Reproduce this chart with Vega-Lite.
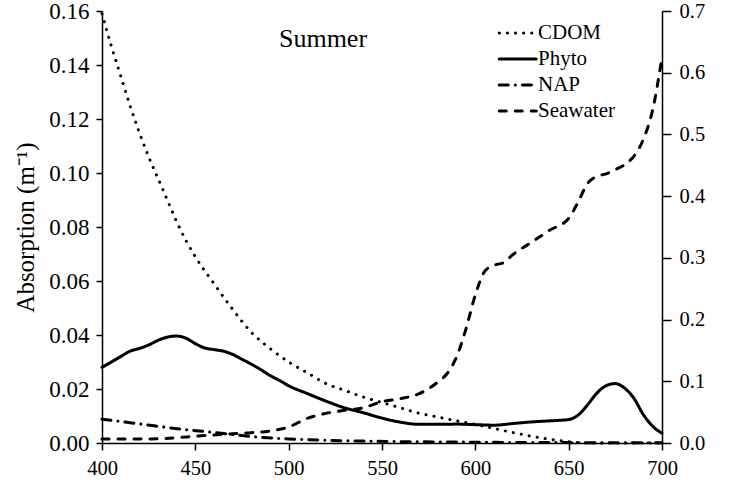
{
  "$schema": "https://vega.github.io/schema/vega-lite/v6.json",
  "width": 560,
  "height": 432,
  "autosize": {"type": "none"},
  "padding": {"left": 102, "top": 11, "right": 76, "bottom": 44},
  "background": "white",
  "config": {
    "view": {"stroke": null},
    "font": "Liberation Serif",
    "axis": {
      "grid": false,
      "labelFlush": false,
      "domainColor": "black",
      "domainWidth": 1.5,
      "tickColor": "black",
      "tickWidth": 1.5,
      "tickSize": 7,
      "labelColor": "black",
      "labelFont": "Liberation Serif",
      "labelFontSize": 20,
      "titleFont": "Liberation Serif",
      "titleColor": "black",
      "titleFontWeight": "normal"
    }
  },
  "datasets": {
    "curves": [
      {"series": "CDOM", "wl": 400, "a": 0.159},
      {"series": "CDOM", "wl": 405, "a": 0.147},
      {"series": "CDOM", "wl": 410, "a": 0.136},
      {"series": "CDOM", "wl": 415, "a": 0.125},
      {"series": "CDOM", "wl": 420, "a": 0.115},
      {"series": "CDOM", "wl": 425, "a": 0.106},
      {"series": "CDOM", "wl": 430, "a": 0.098},
      {"series": "CDOM", "wl": 435, "a": 0.090},
      {"series": "CDOM", "wl": 440, "a": 0.082},
      {"series": "CDOM", "wl": 445, "a": 0.075},
      {"series": "CDOM", "wl": 450, "a": 0.069},
      {"series": "CDOM", "wl": 460, "a": 0.059},
      {"series": "CDOM", "wl": 470, "a": 0.0495},
      {"series": "CDOM", "wl": 480, "a": 0.041},
      {"series": "CDOM", "wl": 490, "a": 0.035},
      {"series": "CDOM", "wl": 500, "a": 0.030},
      {"series": "CDOM", "wl": 510, "a": 0.026},
      {"series": "CDOM", "wl": 520, "a": 0.022},
      {"series": "CDOM", "wl": 530, "a": 0.0195},
      {"series": "CDOM", "wl": 540, "a": 0.017},
      {"series": "CDOM", "wl": 550, "a": 0.015},
      {"series": "CDOM", "wl": 560, "a": 0.013},
      {"series": "CDOM", "wl": 570, "a": 0.011},
      {"series": "CDOM", "wl": 580, "a": 0.0096},
      {"series": "CDOM", "wl": 590, "a": 0.0082},
      {"series": "CDOM", "wl": 600, "a": 0.0069},
      {"series": "CDOM", "wl": 610, "a": 0.0054},
      {"series": "CDOM", "wl": 620, "a": 0.0039},
      {"series": "CDOM", "wl": 630, "a": 0.0025},
      {"series": "CDOM", "wl": 640, "a": 0.0014},
      {"series": "CDOM", "wl": 650, "a": 0.0005},
      {"series": "CDOM", "wl": 660, "a": 0.0},
      {"series": "CDOM", "wl": 670, "a": 0.0},
      {"series": "CDOM", "wl": 680, "a": 0.0},
      {"series": "CDOM", "wl": 690, "a": 0.0},
      {"series": "CDOM", "wl": 700, "a": 0.0},
      {"series": "Phyto", "wl": 400, "a": 0.028},
      {"series": "Phyto", "wl": 405, "a": 0.030},
      {"series": "Phyto", "wl": 410, "a": 0.032},
      {"series": "Phyto", "wl": 415, "a": 0.034},
      {"series": "Phyto", "wl": 420, "a": 0.035},
      {"series": "Phyto", "wl": 425, "a": 0.0363},
      {"series": "Phyto", "wl": 430, "a": 0.038},
      {"series": "Phyto", "wl": 435, "a": 0.0392},
      {"series": "Phyto", "wl": 440, "a": 0.0396},
      {"series": "Phyto", "wl": 445, "a": 0.0388},
      {"series": "Phyto", "wl": 450, "a": 0.0368},
      {"series": "Phyto", "wl": 455, "a": 0.0352},
      {"series": "Phyto", "wl": 460, "a": 0.0346},
      {"series": "Phyto", "wl": 465, "a": 0.034},
      {"series": "Phyto", "wl": 470, "a": 0.0328},
      {"series": "Phyto", "wl": 475, "a": 0.031},
      {"series": "Phyto", "wl": 480, "a": 0.0292},
      {"series": "Phyto", "wl": 485, "a": 0.0272},
      {"series": "Phyto", "wl": 490, "a": 0.025},
      {"series": "Phyto", "wl": 495, "a": 0.0232},
      {"series": "Phyto", "wl": 500, "a": 0.0212},
      {"series": "Phyto", "wl": 510, "a": 0.0183},
      {"series": "Phyto", "wl": 520, "a": 0.0155},
      {"series": "Phyto", "wl": 530, "a": 0.013},
      {"series": "Phyto", "wl": 540, "a": 0.0112},
      {"series": "Phyto", "wl": 550, "a": 0.0092},
      {"series": "Phyto", "wl": 560, "a": 0.0077},
      {"series": "Phyto", "wl": 570, "a": 0.0069},
      {"series": "Phyto", "wl": 580, "a": 0.0069},
      {"series": "Phyto", "wl": 590, "a": 0.0070},
      {"series": "Phyto", "wl": 600, "a": 0.0068},
      {"series": "Phyto", "wl": 610, "a": 0.0066},
      {"series": "Phyto", "wl": 620, "a": 0.0072},
      {"series": "Phyto", "wl": 630, "a": 0.0078},
      {"series": "Phyto", "wl": 640, "a": 0.0082},
      {"series": "Phyto", "wl": 645, "a": 0.0084},
      {"series": "Phyto", "wl": 650, "a": 0.0087},
      {"series": "Phyto", "wl": 655, "a": 0.0103},
      {"series": "Phyto", "wl": 660, "a": 0.0140},
      {"series": "Phyto", "wl": 665, "a": 0.0184},
      {"series": "Phyto", "wl": 670, "a": 0.0212},
      {"series": "Phyto", "wl": 675, "a": 0.0220},
      {"series": "Phyto", "wl": 680, "a": 0.0203},
      {"series": "Phyto", "wl": 685, "a": 0.0165},
      {"series": "Phyto", "wl": 690, "a": 0.0105},
      {"series": "Phyto", "wl": 695, "a": 0.0062},
      {"series": "Phyto", "wl": 700, "a": 0.0036},
      {"series": "NAP", "wl": 400, "a": 0.0088},
      {"series": "NAP", "wl": 420, "a": 0.0071},
      {"series": "NAP", "wl": 440, "a": 0.0053},
      {"series": "NAP", "wl": 460, "a": 0.0039},
      {"series": "NAP", "wl": 480, "a": 0.0024},
      {"series": "NAP", "wl": 500, "a": 0.0015},
      {"series": "NAP", "wl": 520, "a": 0.0010},
      {"series": "NAP", "wl": 540, "a": 0.0007},
      {"series": "NAP", "wl": 560, "a": 0.0005},
      {"series": "NAP", "wl": 580, "a": 0.0004},
      {"series": "NAP", "wl": 600, "a": 0.0003},
      {"series": "NAP", "wl": 620, "a": 0.0002},
      {"series": "NAP", "wl": 640, "a": 0.0002},
      {"series": "NAP", "wl": 660, "a": 0.0001},
      {"series": "NAP", "wl": 680, "a": 0.0001},
      {"series": "NAP", "wl": 700, "a": 0.0001},
      {"series": "Seawater", "wl": 400, "a": 0.0066},
      {"series": "Seawater", "wl": 410, "a": 0.0066},
      {"series": "Seawater", "wl": 420, "a": 0.0066},
      {"series": "Seawater", "wl": 430, "a": 0.0068},
      {"series": "Seawater", "wl": 440, "a": 0.0085},
      {"series": "Seawater", "wl": 450, "a": 0.0110},
      {"series": "Seawater", "wl": 460, "a": 0.0130},
      {"series": "Seawater", "wl": 470, "a": 0.0150},
      {"series": "Seawater", "wl": 480, "a": 0.0167},
      {"series": "Seawater", "wl": 490, "a": 0.0195},
      {"series": "Seawater", "wl": 500, "a": 0.026},
      {"series": "Seawater", "wl": 510, "a": 0.040},
      {"series": "Seawater", "wl": 520, "a": 0.048},
      {"series": "Seawater", "wl": 530, "a": 0.053},
      {"series": "Seawater", "wl": 540, "a": 0.057},
      {"series": "Seawater", "wl": 550, "a": 0.067},
      {"series": "Seawater", "wl": 560, "a": 0.072},
      {"series": "Seawater", "wl": 570, "a": 0.080},
      {"series": "Seawater", "wl": 580, "a": 0.099},
      {"series": "Seawater", "wl": 585, "a": 0.113},
      {"series": "Seawater", "wl": 590, "a": 0.140},
      {"series": "Seawater", "wl": 595, "a": 0.185},
      {"series": "Seawater", "wl": 600, "a": 0.240},
      {"series": "Seawater", "wl": 605, "a": 0.278},
      {"series": "Seawater", "wl": 610, "a": 0.288},
      {"series": "Seawater", "wl": 615, "a": 0.292},
      {"series": "Seawater", "wl": 620, "a": 0.305},
      {"series": "Seawater", "wl": 630, "a": 0.325},
      {"series": "Seawater", "wl": 640, "a": 0.345},
      {"series": "Seawater", "wl": 650, "a": 0.364},
      {"series": "Seawater", "wl": 655, "a": 0.390},
      {"series": "Seawater", "wl": 660, "a": 0.420},
      {"series": "Seawater", "wl": 665, "a": 0.432},
      {"series": "Seawater", "wl": 670, "a": 0.436},
      {"series": "Seawater", "wl": 675, "a": 0.443},
      {"series": "Seawater", "wl": 680, "a": 0.451},
      {"series": "Seawater", "wl": 685, "a": 0.465},
      {"series": "Seawater", "wl": 690, "a": 0.492},
      {"series": "Seawater", "wl": 695, "a": 0.540},
      {"series": "Seawater", "wl": 700, "a": 0.625}
    ],
    "note": [{"wl": 518.4, "a": 0.1467, "label": "Summer"}]
  },
  "layer": [
    {
      "layer": [
        {
          "data": {"name": "curves"},
          "transform": [{"filter": "datum.series !== 'Seawater'"}],
          "mark": {"type": "line", "color": "black", "strokeWidth": 3, "strokeCap": "round", "interpolate": "monotone"},
          "encoding": {
            "x": {"field": "wl", "type": "quantitative", "scale": {"domain": [400, 700]},
                  "axis": {"title": null, "values": [400, 450, 500, 550, 600, 650, 700], "labelFontSize": 20.5, "labelPadding": 8, "tickSize": 7}},
            "y": {"field": "a", "type": "quantitative", "scale": {"domain": [0, 0.16]},
                  "axis": {"title": "Absorption (m⁻¹)", "titleFontSize": 25, "titlePadding": 10, "values": [0, 0.02, 0.04, 0.06, 0.08, 0.1, 0.12, 0.14, 0.16], "format": ".2f", "labelFontSize": 23, "labelPadding": 7, "tickSize": 6}},
            "strokeDash": {"field": "series", "type": "nominal",
                  "scale": {"domain": ["CDOM", "Phyto", "NAP", "Seawater"], "range": [[0.1, 8], [1, 0], [9, 7, 0.1, 7], [7, 9]]},
                  "legend": {"title": null, "orient": "none", "legendX": 414, "legendY": 11, "padding": 0, "symbolType": "M-3,0H1", "symbolSize": 342, "symbolStrokeWidth": 3, "symbolStrokeColor": "black", "symbolFillColor": "transparent", "labelFont": "Liberation Serif", "labelFontSize": 21, "labelColor": "black", "labelOffset": 0, "rowPadding": 5,
                             "encode": {"symbols": {"update": {"strokeCap": {"value": "round"}, "fill": {"value": "transparent"}}}}}}
          }
        },
        {
          "data": {"name": "note"},
          "mark": {"type": "text", "font": "Liberation Serif", "fontSize": 26, "color": "black", "align": "center", "baseline": "alphabetic"},
          "encoding": {
            "x": {"field": "wl", "type": "quantitative"},
            "y": {"field": "a", "type": "quantitative"},
            "text": {"field": "label"}
          }
        }
      ]
    },
    {
      "data": {"name": "curves"},
      "transform": [{"filter": "datum.series === 'Seawater'"}],
      "mark": {"type": "line", "color": "black", "strokeWidth": 3, "strokeCap": "round", "interpolate": "monotone"},
      "encoding": {
        "x": {"field": "wl", "type": "quantitative"},
        "y": {"field": "a", "type": "quantitative", "scale": {"domain": [0, 0.7]},
              "axis": {"orient": "right", "title": null, "values": [0, 0.1, 0.2, 0.3, 0.4, 0.5, 0.6, 0.7], "format": ".1f", "labelFontSize": 20.5, "labelPadding": 8, "tickSize": 9}},
        "strokeDash": {"field": "series", "type": "nominal"}
      }
    }
  ],
  "resolve": {"scale": {"y": "independent"}}
}
